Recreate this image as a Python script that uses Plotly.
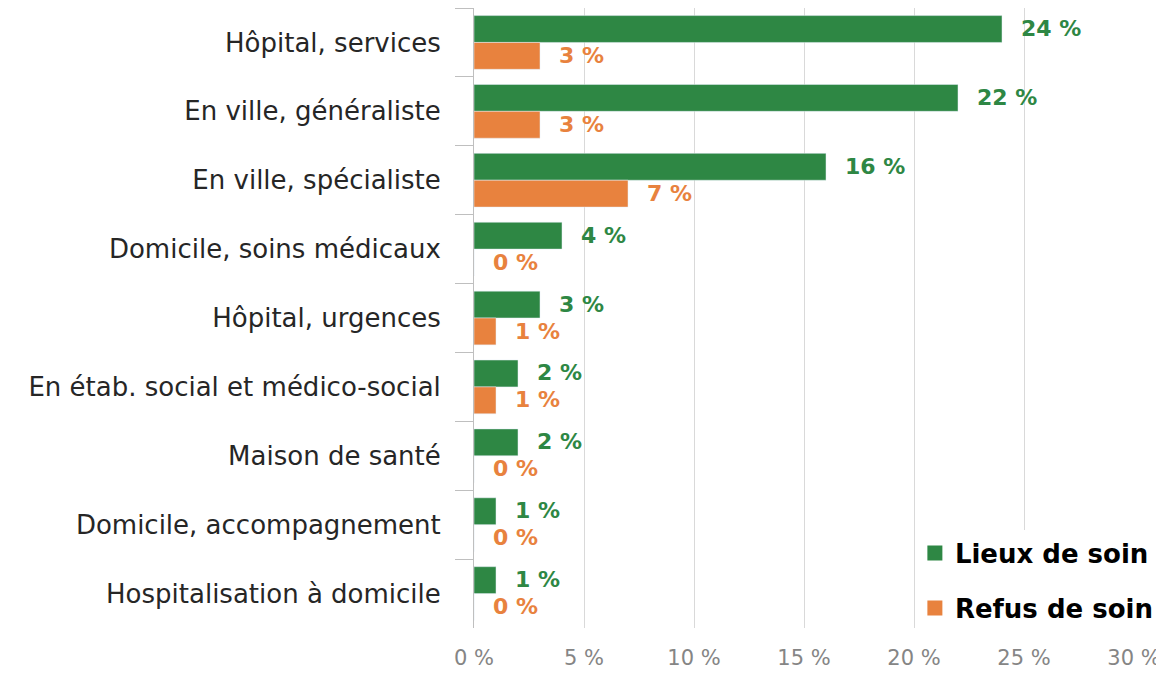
import plotly.graph_objects as go

categories = [
    "Hôpital, services",
    "En ville, généraliste",
    "En ville, spécialiste",
    "Domicile, soins médicaux",
    "Hôpital, urgences",
    "En étab. social et médico-social",
    "Maison de santé",
    "Domicile, accompagnement",
    "Hospitalisation à domicile",
]
lieux = [24, 22, 16, 4, 3, 2, 2, 1, 1]
refus = [3, 3, 7, 0, 1, 1, 0, 0, 0]
series_names = ["Lieux de soin", "Refus de soin"]
x_ticks = [0, 5, 10, 15, 20, 25, 30]
x_labels = [f"{v} %" for v in x_ticks]

GREEN = "#2E8744"
ORANGE = "#E8823E"
FONT = "DejaVu Sans"

fig = go.Figure()
fig.add_trace(go.Bar(y=categories, x=lieux, orientation="h", name=series_names[0],
                     marker_color=GREEN, showlegend=False))
fig.add_trace(go.Bar(y=categories, x=refus, orientation="h", name=series_names[1],
                     marker_color=ORANGE, showlegend=False))
# legend entries with larger square symbols
for nm, col, grp in zip(series_names, [GREEN, ORANGE], ["a", "b"]):
    fig.add_trace(go.Scatter(x=[None], y=[None], mode="markers", name=nm,
                             legendgroup=grp,
                             marker=dict(symbol="square", size=15, color=col)))

for cat, v in zip(categories, lieux):
    fig.add_annotation(x=v, y=cat, text=f"<b>{v} %</b>", showarrow=False,
                       xanchor="left", xshift=17, yshift=14,
                       font=dict(family=FONT, size=22, color=GREEN))
for cat, v in zip(categories, refus):
    fig.add_annotation(x=v, y=cat, text=f"<b>{v} %</b>", showarrow=False,
                       xanchor="left", xshift=17, yshift=-13,
                       font=dict(family=FONT, size=22, color=ORANGE))

fig.update_layout(
    width=1156, height=665,
    margin=dict(l=466, r=30, t=0, b=45),
    plot_bgcolor="white", paper_bgcolor="white",
    barmode="group", bargap=0.22, bargroupgap=0,
    font=dict(family=FONT, color="#222222"),
    legend=dict(x=0.668, y=-0.006, xanchor="left", yanchor="bottom",
                bgcolor="white", tracegroupgap=18, itemwidth=30,
                font=dict(family=FONT, size=26, color="black", weight="bold")),
)
fig.update_xaxes(range=[0, 30], tickvals=x_ticks, ticktext=x_labels,
                 showgrid=True, gridcolor="#d9d9d9", gridwidth=1,
                 zeroline=False, showline=False, automargin=False,
                 ticklabelstandoff=15,
                 tickfont=dict(family=FONT, size=21, color="#858585"))
fig.update_yaxes(autorange="reversed", tickson="boundaries", ticks="outside",
                 ticklen=18, tickcolor="#bfbfbf", showline=True, linecolor="#bfbfbf",
                 showgrid=False, ticklabelstandoff=27, automargin=False,
                 tickfont=dict(family=FONT, size=26, color="#262626"))

fig.write_html("out.html")
